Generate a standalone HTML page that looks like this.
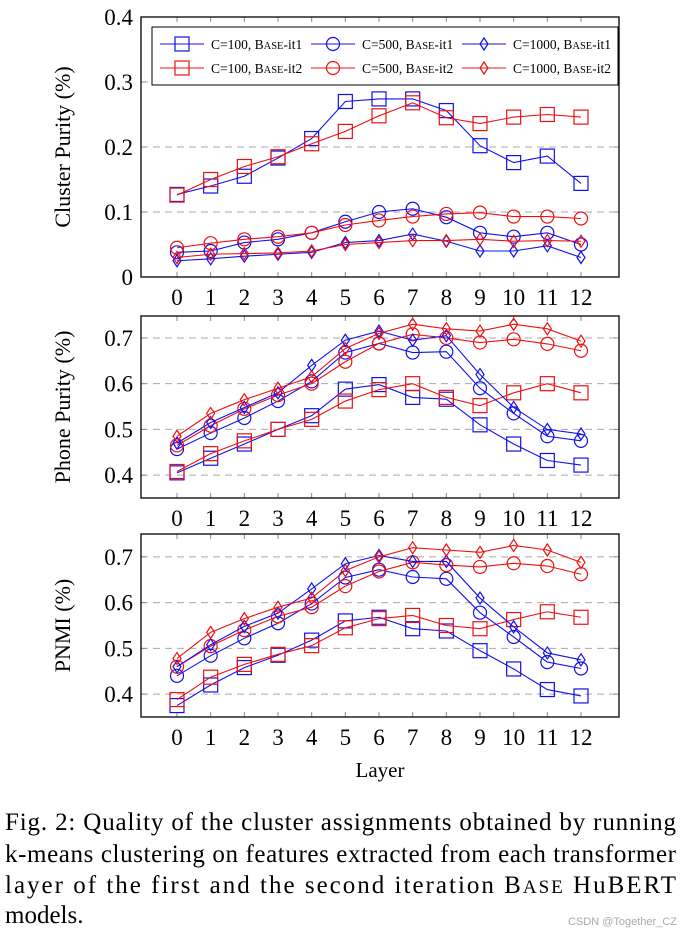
<!DOCTYPE html>
<html><head><meta charset="utf-8">
<style>
html,body{margin:0;padding:0;background:#fff;}
svg{display:block;font-family:"Liberation Serif",serif;}
</style></head>
<body>
<svg id="fig" width="685" height="935" viewBox="0 0 685 935" xmlns="http://www.w3.org/2000/svg">
<g id="plots"></g>
<text x="380" y="777" font-size="21" text-anchor="middle">Layer</text>
<g font-size="25">
<text x="5" y="830" textLength="671" lengthAdjust="spacing">Fig. 2: Quality of the cluster assignments obtained by running</text>
<text x="5" y="862" textLength="671" lengthAdjust="spacing">k-means clustering on features extracted from each transformer</text>
<text x="5" y="893" textLength="671" lengthAdjust="spacing">layer of the first and the second iteration B<tspan font-size="19">ASE</tspan> HuBERT</text>
<text x="5" y="923">models.</text>
</g>
<text x="677" y="925" font-size="11" fill="#aaa" text-anchor="end" font-family="Liberation Sans,sans-serif">CSDN @Together_CZ</text>
</svg>
<script>
const layers=[0,1,2,3,4,5,6,7,8,9,10,11,12];
// Cluster purity
const cp_c100_it1=[0.127,0.14,0.155,0.183,0.213,0.27,0.274,0.274,0.256,0.202,0.176,0.186,0.144];
const cp_c100_it2=[0.126,0.15,0.17,0.185,0.205,0.224,0.248,0.268,0.245,0.236,0.246,0.25,0.246];
const cp_c500_it1=[0.038,0.04,0.053,0.058,0.068,0.085,0.1,0.105,0.092,0.068,0.062,0.068,0.05];
const cp_c500_it2=[0.045,0.052,0.058,0.062,0.068,0.08,0.087,0.093,0.097,0.099,0.093,0.093,0.09];
const cp_c1000_it1=[0.025,0.028,0.032,0.035,0.038,0.053,0.056,0.066,0.055,0.04,0.04,0.048,0.03];
const cp_c1000_it2=[0.03,0.035,0.036,0.037,0.04,0.05,0.053,0.056,0.056,0.058,0.055,0.056,0.055];
// Phone purity
const pp_c100_it1=[0.405,0.437,0.468,0.5,0.53,0.588,0.598,0.57,0.566,0.51,0.468,0.432,0.422];
const pp_c100_it2=[0.408,0.447,0.475,0.5,0.522,0.562,0.587,0.6,0.57,0.552,0.58,0.6,0.58];
const pp_c500_it1=[0.457,0.492,0.525,0.562,0.605,0.668,0.688,0.668,0.67,0.59,0.535,0.485,0.475];
const pp_c500_it2=[0.465,0.508,0.545,0.575,0.6,0.648,0.688,0.708,0.7,0.69,0.697,0.687,0.672];
const pp_c1000_it1=[0.47,0.515,0.548,0.58,0.64,0.695,0.715,0.695,0.705,0.62,0.548,0.5,0.49];
const pp_c1000_it2=[0.485,0.535,0.565,0.59,0.615,0.677,0.71,0.73,0.72,0.715,0.73,0.72,0.693];
// PNMI
const pn_c100_it1=[0.375,0.42,0.458,0.485,0.518,0.56,0.568,0.543,0.538,0.495,0.455,0.41,0.396];
const pn_c100_it2=[0.388,0.437,0.465,0.487,0.506,0.545,0.565,0.572,0.55,0.543,0.563,0.58,0.568];
const pn_c500_it1=[0.44,0.484,0.522,0.555,0.598,0.655,0.672,0.656,0.652,0.578,0.525,0.47,0.456];
const pn_c500_it2=[0.46,0.505,0.54,0.57,0.59,0.636,0.668,0.688,0.682,0.678,0.686,0.68,0.662];
const pn_c1000_it1=[0.46,0.508,0.548,0.577,0.63,0.685,0.703,0.69,0.69,0.61,0.547,0.49,0.475];
const pn_c1000_it2=[0.478,0.535,0.565,0.59,0.61,0.67,0.7,0.72,0.715,0.71,0.725,0.715,0.688];
const cpTicks=[0,0.1,0.2,0.3,0.4];
const ppTicks=[0.4,0.5,0.6,0.7];
const pnTicks=[0.4,0.5,0.6,0.7];

const NS="http://www.w3.org/2000/svg";
const root=document.getElementById('plots');
function mk(tag,attrs,parent){const e=document.createElementNS(NS,tag);for(const k in attrs)e.setAttribute(k,attrs[k]);(parent||root).appendChild(e);return e;}
const BL="#1010ee",RD="#ee1010";
const X0=141,X1=619,XA=177,XB=581;
function xs(i){return XA+(XB-XA)*i/12;}
function marker(g,type,x,y,col){
  let m;
  if(type==='sq') m=mk('rect',{x:x-7,y:y-7,width:14,height:14,fill:'none',stroke:col,'stroke-width':1.2},g);
  else if(type==='ci') m=mk('circle',{cx:x,cy:y,r:6.5,fill:'none',stroke:col,'stroke-width':1.2},g);
  else m=mk('polygon',{points:`${x},${y-6} ${x+4},${y} ${x},${y+6} ${x-4},${y}`,fill:'none',stroke:col,'stroke-width':1.2},g);
  
  
}
function panel(name,top,bot,vTop,vBot,ticks,fmt,title,series,legend){
  const g=mk('g',{});
  
  
  const ys=v=>bot-(v-vBot)/(vTop-vBot)*(bot-top);
  ticks.forEach(t=>{
    const y=ys(t);
    if(Math.abs(y-top)>2&&Math.abs(y-bot)>2){
      const gl=mk('line',{x1:X0,x2:X1,y1:y,y2:y,stroke:'#aaa','stroke-dasharray':'7 5','stroke-width':1},g);
      
      
    }
    mk('line',{x1:X0,x2:X0+5,y1:y,y2:y,stroke:'#888'},g);
    mk('line',{x1:X1-5,x2:X1,y1:y,y2:y,stroke:'#888'},g);
    const tl=mk('text',{x:X0-8,y:y+8,'font-size':23,'text-anchor':'end'},g);
    tl.textContent=fmt(t);
    
    
  });
  layers.forEach((l,i)=>{
    const x=xs(i);
    mk('line',{x1:x,x2:x,y1:top,y2:top+5,stroke:'#888'},g);
    mk('line',{x1:x,x2:x,y1:bot-5,y2:bot,stroke:'#888'},g);
    const tl=mk('text',{x:x,y:bot+28,'font-size':23,'text-anchor':'middle'},g);
    tl.textContent=l;
    
    
  });
  const box=mk('rect',{x:X0,y:top,width:X1-X0,height:bot-top,fill:'none',stroke:'#000','stroke-width':1.3},g);
  
  
  const yt=mk('text',{x:0,y:0,'font-size':22,'text-anchor':'middle',transform:`translate(70,${(top+bot)/2}) rotate(-90)`},g);
  yt.textContent=title;
  
  
  series.forEach(s=>{
    const sg=mk('g',{},g);
    
    
    mk('polyline',{points:s.d.map((v,i)=>xs(i)+','+ys(v)).join(' '),fill:'none',stroke:s.c,'stroke-width':1.1},sg);
    s.d.forEach((v,i)=>marker(sg,s.m,xs(i),ys(v),s.c));
  });
  if(legend){
    const lg=mk('g',{},g);
    
    
    mk('rect',{x:152,y:27,width:466,height:58,fill:'#fff',stroke:'#000','stroke-width':1},lg);
    const labels=[['C=100, ','-it1'],['C=500, ','-it1'],['C=1000, ','-it1'],['C=100, ','-it2'],['C=500, ','-it2'],['C=1000, ','-it2']];
    series.forEach((s,k)=>{
      const idx=[0,3,1,4,2,5][k];
      const col=idx%3,row=Math.floor(idx/3);
      const lx=160+col*151,ly=44+row*24;
      const e=mk('g',{},lg);
      
      
      mk('line',{x1:lx,x2:lx+44,y1:ly,y2:ly,stroke:s.c,'stroke-width':1.1},e);
      marker(e,s.m,lx+22,ly,s.c);
      const t=mk('text',{x:lx+51,y:ly+5,'font-size':13.5},e);
      const L=labels[idx];
      t.innerHTML=L[0]+'B<tspan font-size="10.5">ASE</tspan>'+L[1];
    });
  }
}
panel('cluster-purity-chart',17,277,0.4,0,cpTicks,t=>t===0?'0':t.toFixed(1),'Cluster Purity (%)',[
 {n:'c100-it1',d:cp_c100_it1,c:BL,m:'sq'},{n:'c100-it2',d:cp_c100_it2,c:RD,m:'sq'},
 {n:'c500-it1',d:cp_c500_it1,c:BL,m:'ci'},{n:'c500-it2',d:cp_c500_it2,c:RD,m:'ci'},
 {n:'c1000-it1',d:cp_c1000_it1,c:BL,m:'di'},{n:'c1000-it2',d:cp_c1000_it2,c:RD,m:'di'}],true);
panel('phone-purity-chart',316,498,0.748,0.35,ppTicks,t=>t.toFixed(1),'Phone Purity (%)',[
 {n:'c100-it1',d:pp_c100_it1,c:BL,m:'sq'},{n:'c100-it2',d:pp_c100_it2,c:RD,m:'sq'},
 {n:'c500-it1',d:pp_c500_it1,c:BL,m:'ci'},{n:'c500-it2',d:pp_c500_it2,c:RD,m:'ci'},
 {n:'c1000-it1',d:pp_c1000_it1,c:BL,m:'di'},{n:'c1000-it2',d:pp_c1000_it2,c:RD,m:'di'}],false);
panel('pnmi-chart',534,717,0.75,0.35,pnTicks,t=>t.toFixed(1),'PNMI (%)',[
 {n:'c100-it1',d:pn_c100_it1,c:BL,m:'sq'},{n:'c100-it2',d:pn_c100_it2,c:RD,m:'sq'},
 {n:'c500-it1',d:pn_c500_it1,c:BL,m:'ci'},{n:'c500-it2',d:pn_c500_it2,c:RD,m:'ci'},
 {n:'c1000-it1',d:pn_c1000_it1,c:BL,m:'di'},{n:'c1000-it2',d:pn_c1000_it2,c:RD,m:'di'}],false);
</script>
</body></html>
